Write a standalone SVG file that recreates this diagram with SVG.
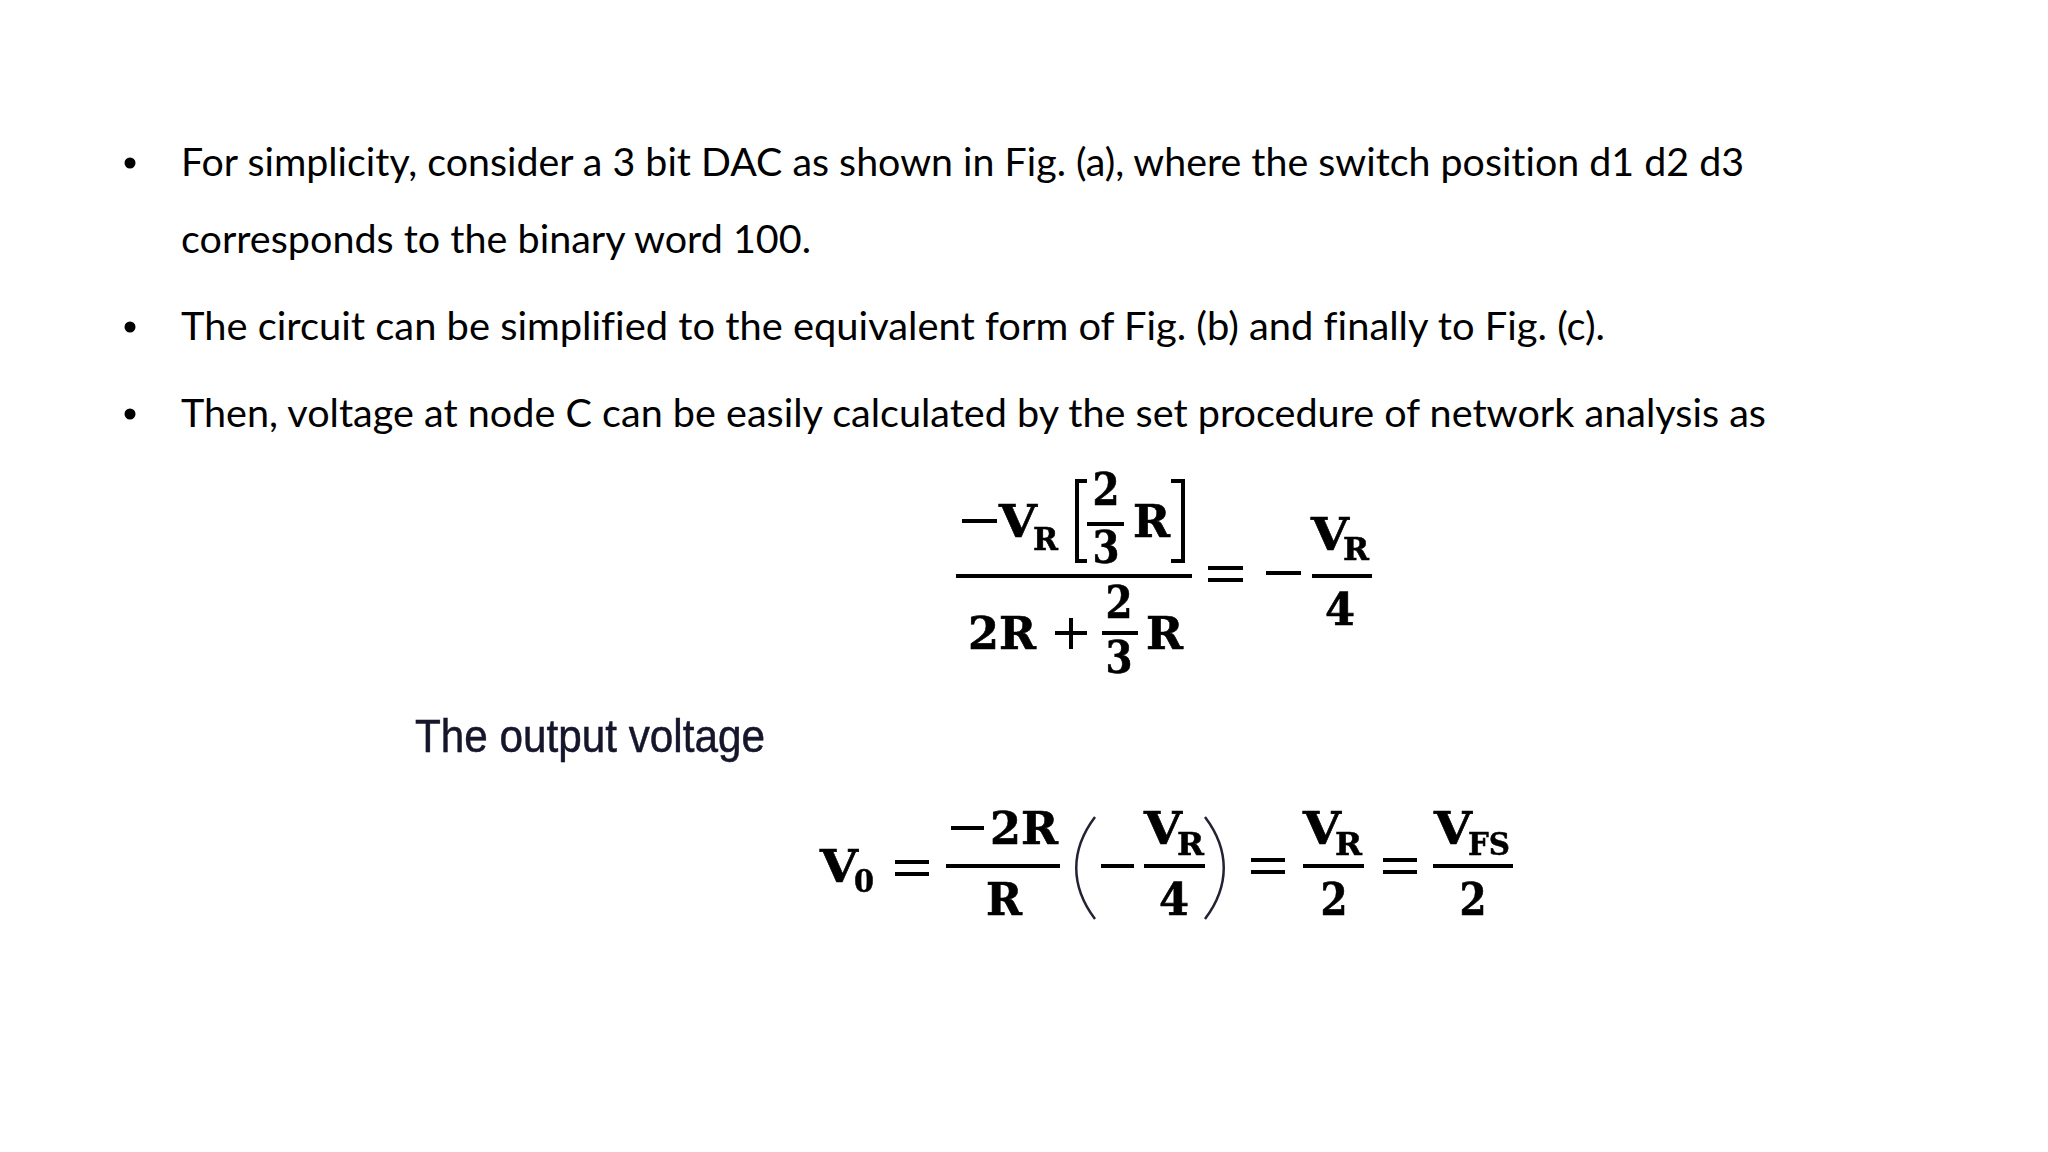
<svg xmlns="http://www.w3.org/2000/svg" width="2048" height="1152" viewBox="0 0 2048 1152">
<style>
.b{font-family:"Lato","Open Sans",sans-serif;font-size:39px;fill:#000;font-variant-ligatures:none}
.m{font-family:"DejaVu Serif",serif;font-weight:700;font-size:44px;fill:#000;stroke:#000;stroke-width:.6}
.d{font-family:"DejaVu Serif",serif;font-weight:700;font-size:44px;fill:#000;text-anchor:middle;stroke:#000;stroke-width:.6}
.s{font-family:"DejaVu Serif",serif;font-weight:700;font-size:31px;fill:#000;stroke:#000;stroke-width:.5}
.l{stroke:#000;stroke-width:4;fill:none}
.p{stroke:#223;stroke-width:2.500;fill:none}
.o{font-family:"Liberation Sans",sans-serif;font-size:46px;fill:#14142a;stroke:#14142a;stroke-width:.5}
</style>
<defs><filter id="f" x="-5%" y="-5%" width="110%" height="110%"><feGaussianBlur stdDeviation="0.7"/></filter></defs>
<rect width="2048" height="1152" fill="#fff"/>
<g id="bullets">
<circle cx="130" cy="163" r="5.500"/><circle cx="130" cy="327" r="5.500"/><circle cx="130" cy="414" r="5.500"/>
<text class="b" x="181" y="176" textLength="1563" lengthAdjust="spacingAndGlyphs">For simplicity, consider a 3 bit DAC as shown in Fig. (a), where the switch position d1 d2 d3</text>
<text class="b" x="181" y="253" textLength="630" lengthAdjust="spacingAndGlyphs">corresponds to the binary word 100.</text>
<text class="b" x="181" y="340" textLength="1424" lengthAdjust="spacingAndGlyphs">The circuit can be simplified to the equivalent form of Fig. (b) and finally to Fig. (c).</text>
<text class="b" x="181" y="427" textLength="1585" lengthAdjust="spacingAndGlyphs">Then, voltage at node C can be easily calculated by the set procedure of network analysis as</text>
</g>
<g id="eq1" filter="url(#f)">
<path class="l" d="M962 521H997M956 576H1192M1087 524H1124M1102 633H1138M1208 568H1243M1208 580H1243M1266 573H1301M1312 576H1372M1055 633H1087M1071 618V649"/>
<path class="l" d="M1087 481H1077V561H1087M1171 481H1183V561H1171"/>
<text class="m" x="999" y="537" textLength="38" lengthAdjust="spacingAndGlyphs">V</text><text class="s" x="1033" y="550" textLength="25" lengthAdjust="spacingAndGlyphs">R</text>
<text class="d" x="1106" y="505" textLength="27" lengthAdjust="spacingAndGlyphs">2</text><text class="d" x="1106" y="563" textLength="27" lengthAdjust="spacingAndGlyphs">3</text><text class="m" x="1133" y="537" textLength="37" lengthAdjust="spacingAndGlyphs">R</text>
<text class="m" x="968" y="649" textLength="68" lengthAdjust="spacingAndGlyphs">2R</text>
<text class="d" x="1119" y="618" textLength="27" lengthAdjust="spacingAndGlyphs">2</text><text class="d" x="1119" y="673" textLength="27" lengthAdjust="spacingAndGlyphs">3</text><text class="m" x="1146" y="649" textLength="37" lengthAdjust="spacingAndGlyphs">R</text>
<text class="m" x="1311" y="550" textLength="38" lengthAdjust="spacingAndGlyphs">V</text><text class="s" x="1343" y="560" textLength="26" lengthAdjust="spacingAndGlyphs">R</text><text class="d" x="1340" y="625" textLength="30" lengthAdjust="spacingAndGlyphs">4</text>
</g>
<text id="output-label" class="o" x="415" y="752" textLength="350" lengthAdjust="spacingAndGlyphs" filter="url(#f)">The output voltage</text>
<g id="eq2" filter="url(#f)">
<text class="m" x="820" y="882" textLength="38" lengthAdjust="spacingAndGlyphs">V</text><text class="s" x="854" y="892" textLength="20" lengthAdjust="spacingAndGlyphs">0</text>
<path class="l" d="M895 862H929M895 874H929M951 828H984M946 866H1060M1101 866H1134M1144 866H1205M1251 860H1285M1251 872H1285M1303 866H1364M1383 860H1417M1383 872H1417M1433 866H1513"/>
<text class="m" x="990" y="844" textLength="68" lengthAdjust="spacingAndGlyphs">2R</text><text class="d" x="1004" y="915" textLength="36" lengthAdjust="spacingAndGlyphs">R</text>
<path class="p" d="M1095 817C1070 850 1070 886 1095 919M1205 817C1230 850 1230 886 1205 919"/>
<text class="m" x="1144" y="844" textLength="38" lengthAdjust="spacingAndGlyphs">V</text><text class="s" x="1177" y="855" textLength="27" lengthAdjust="spacingAndGlyphs">R</text><text class="d" x="1174" y="915" textLength="30" lengthAdjust="spacingAndGlyphs">4</text>
<text class="m" x="1303" y="844" textLength="38" lengthAdjust="spacingAndGlyphs">V</text><text class="s" x="1335" y="855" textLength="27" lengthAdjust="spacingAndGlyphs">R</text><text class="d" x="1334" y="915" textLength="27" lengthAdjust="spacingAndGlyphs">2</text>
<text class="m" x="1434" y="844" textLength="38" lengthAdjust="spacingAndGlyphs">V</text><text class="s" x="1468" y="855" textLength="42" lengthAdjust="spacingAndGlyphs">FS</text><text class="d" x="1473" y="915" textLength="27" lengthAdjust="spacingAndGlyphs">2</text>
</g>
</svg>
